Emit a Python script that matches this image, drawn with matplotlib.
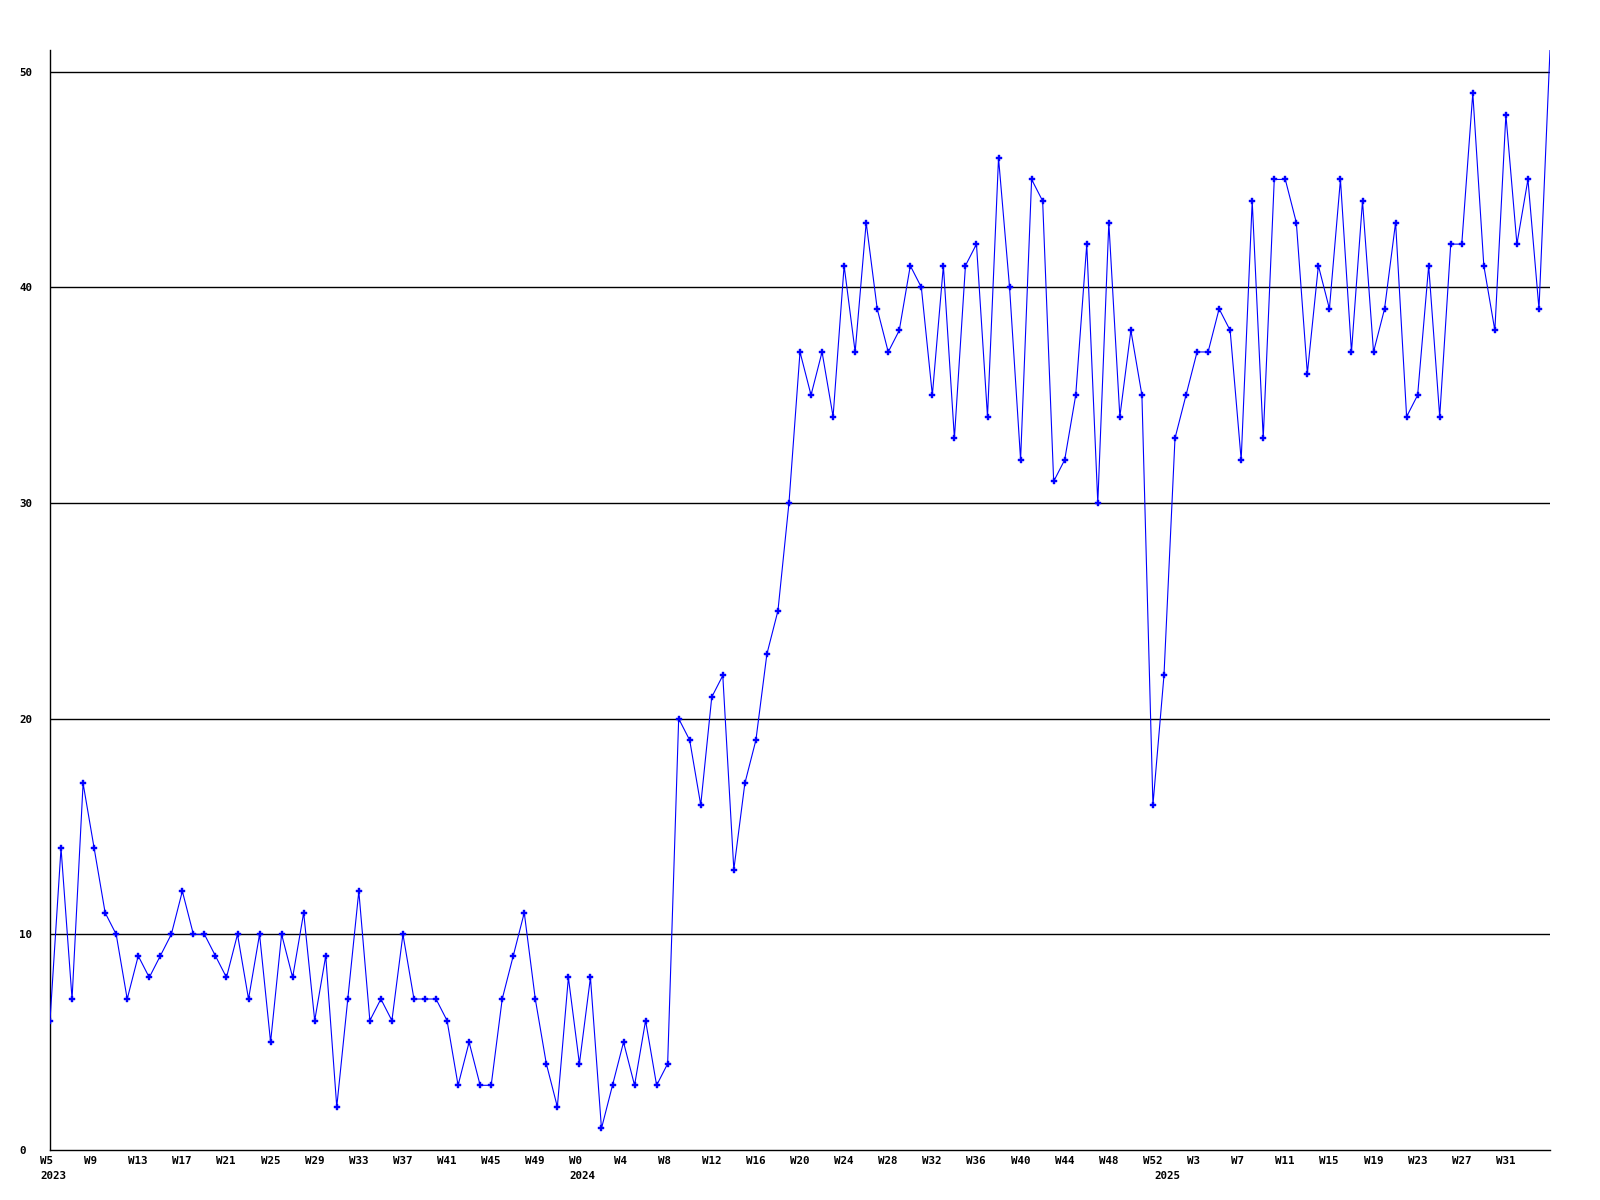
#!/usr/bin/env python3
"""Weekly counts 2023 W5 - 2025 W35, redrawn as a plain line chart."""
import numpy as np
import matplotlib
matplotlib.use('Agg')
import matplotlib.pyplot as plt
import matplotlib.transforms as mtransforms

# weekly values, one per week starting 2023 W5
values = [
    6, 14, 7, 17, 14, 11, 10, 7, 9, 8,
    9, 10, 12, 10, 10, 9, 8, 10, 7, 10,
    5, 10, 8, 11, 6, 9, 2, 7, 12, 6,
    7, 6, 10, 7, 7, 7, 6, 3, 5, 3,
    3, 7, 9, 11, 7, 4, 2, 8, 4, 8,
    1, 3, 5, 3, 6, 3, 4, 20, 19, 16,
    21, 22, 13, 17, 19, 23, 25, 30, 37, 35,
    37, 34, 41, 37, 43, 39, 37, 38, 41, 40,
    35, 41, 33, 41, 42, 34, 46, 40, 32, 45,
    44, 31, 32, 35, 42, 30, 43, 34, 38, 35,
    16, 22, 33, 35, 37, 37, 39, 38, 32, 44,
    33, 45, 45, 43, 36, 41, 39, 45, 37, 44,
    37, 39, 43, 34, 35, 41, 34, 42, 42, 49,
    41, 38, 48, 42, 45, 39, 51,
]

# x labels every 4th week
week_labels = [
    'W5', 'W9', 'W13', 'W17', 'W21', 'W25', 'W29', 'W33', 'W37', 'W41', 'W45', 'W49',
    'W0', 'W4', 'W8', 'W12', 'W16', 'W20', 'W24', 'W28', 'W32', 'W36', 'W40', 'W44',
    'W48', 'W52',
    'W3', 'W7', 'W11', 'W15', 'W19', 'W23', 'W27', 'W31',
]
label_step = 4

# year labels sit under the first week of each year
years = ['2023', '2024', '2025']
year_start = [0, 48, 101]

y_ticks = [0, 10, 20, 30, 40, 50]

LINE_COLOR = '#0000ff'
FONT = dict(family='DejaVu Sans Mono', weight='bold', size=7.8)

x = np.arange(len(values))

fig = plt.figure(figsize=(16, 12), dpi=100)
ax = fig.add_axes([50 / 1600, 50 / 1200, 1500 / 1600, 1100 / 1200])

# last point sits on the plot corner, the original shows no marker there
ax.plot(x, values, color=LINE_COLOR, linewidth=0.8,
        marker='P', markersize=3.8, markeredgewidth=0.3,
        markerfacecolor=LINE_COLOR, markeredgecolor=LINE_COLOR,
        markevery=list(range(len(values) - 1)), zorder=3)

ax.set_xlim(0, len(values) - 1)
ax.set_ylim(0, max(values))

# horizontal rules
for yv in y_ticks[1:]:
    ax.axhline(yv, color='black', linewidth=1.0, zorder=1)

for side in ('top', 'right'):
    ax.spines[side].set_visible(False)
for side in ('left', 'bottom'):
    ax.spines[side].set_color('black')
    ax.spines[side].set_linewidth(1.0)

ax.set_yticks(y_ticks)
ax.set_yticklabels([str(v) for v in y_ticks], **FONT)
ax.tick_params(axis='y', length=0, pad=22)
for lab in ax.get_yticklabels():
    lab.set_horizontalalignment('left')

ax.set_xticks([])

# x labels: left aligned, a little before each tick
base = mtransforms.blended_transform_factory(ax.transData, ax.transAxes)
wk_trans = base + mtransforms.ScaledTranslation(-10 / 100, -6 / 100, fig.dpi_scale_trans)
yr_trans = base + mtransforms.ScaledTranslation(-10 / 100, -21 / 100, fig.dpi_scale_trans)

for k, lab in enumerate(week_labels):
    ax.text(k * label_step, 0, lab, transform=wk_trans, ha='left', va='top',
            clip_on=False, **FONT)
for pos, yr in zip(year_start, years):
    ax.text(pos, 0, yr, transform=yr_trans, ha='left', va='top',
            clip_on=False, **FONT)

fig.savefig('out.png', dpi=100)
